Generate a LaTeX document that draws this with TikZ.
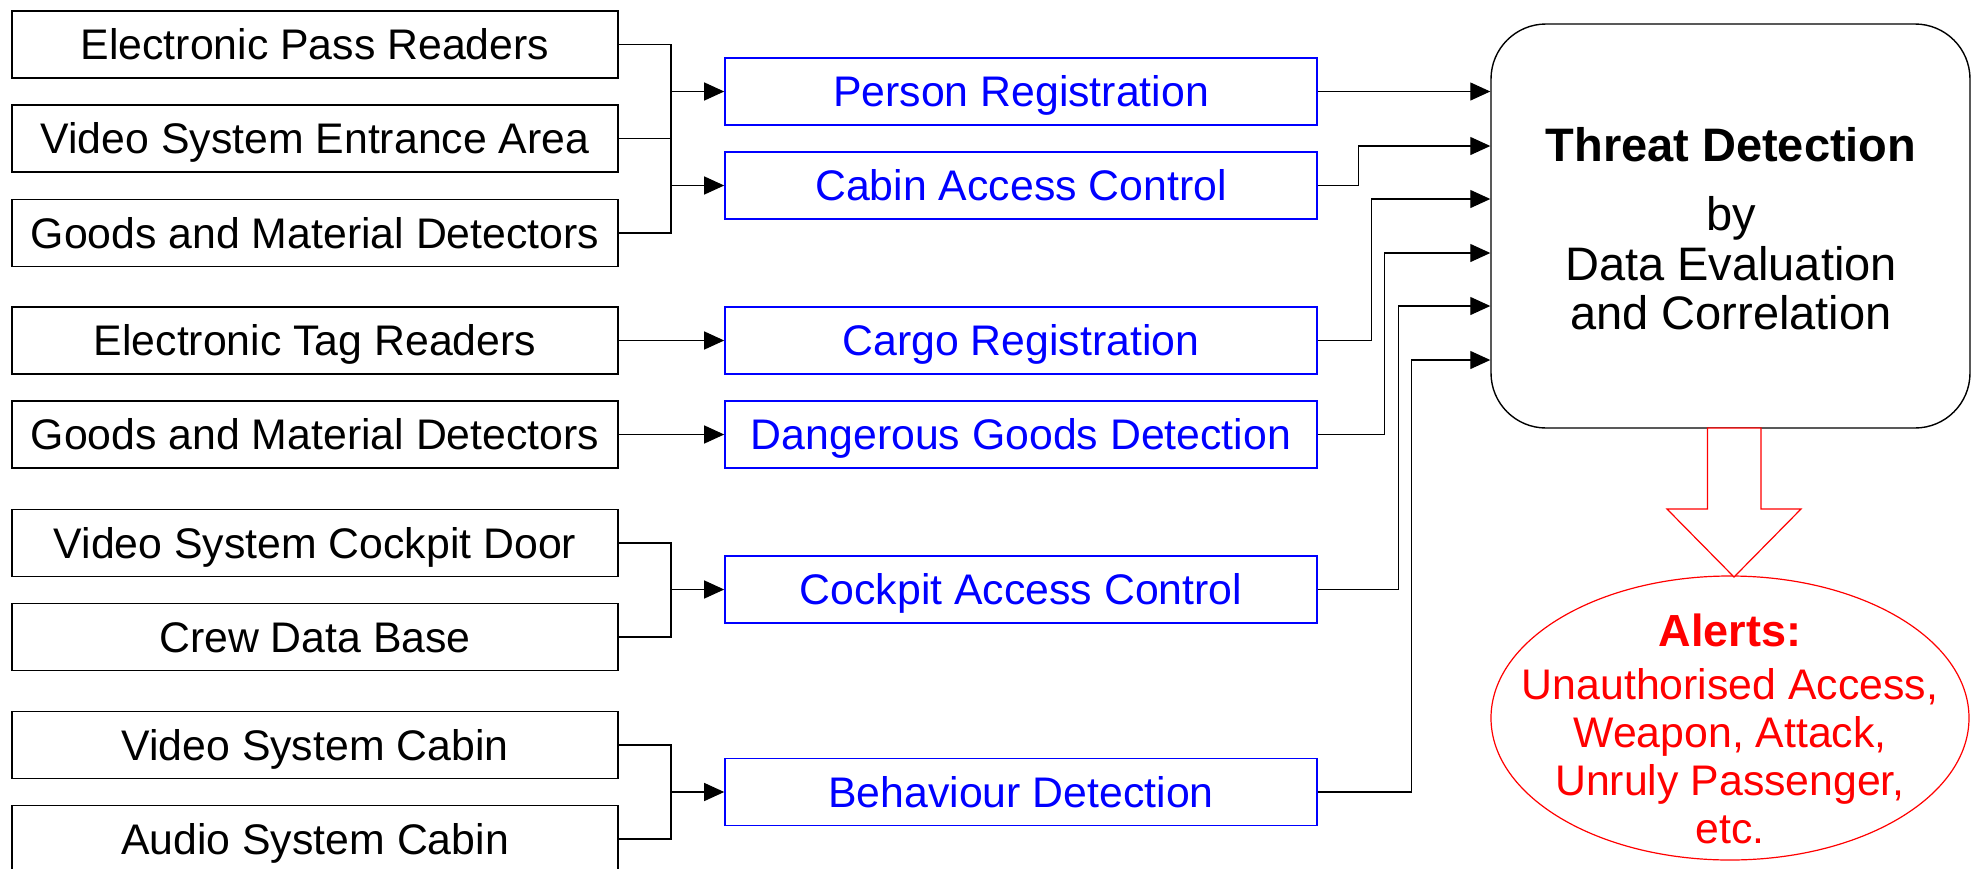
\documentclass[tikz,border=0pt]{standalone}
\usepackage{fontspec}
\setmainfont{Liberation Sans}
\usetikzlibrary{arrows.meta,shapes.geometric,calc}

\tikzset{
  srcbox/.style={draw=black, line width=0.8pt, minimum width=303pt,
    minimum height=33.5pt, inner sep=0pt, text height=15.3pt, text depth=0pt,
    font=\fontsize{21.4}{25}\selectfont},
  funcbox/.style={draw=blue, text=blue, line width=0.8pt, minimum width=296pt,
    minimum height=33.5pt, inner sep=0pt, text height=15.3pt, text depth=0pt,
    font=\fontsize{21.4}{25}\selectfont},
  threatbox/.style={draw=black, line width=0.7pt, rounded corners=27.5pt,
    minimum width=239.5pt, minimum height=202pt, inner sep=0pt},
  threattext/.style={align=center, inner sep=0pt,
    font=\fontsize{23.5}{24.75}\selectfont},
  alertshape/.style={ellipse, draw=red, line width=0.6pt,
    minimum width=239pt, minimum height=142pt, inner sep=0pt},
  alerttext/.style={text=red, inner sep=0pt, align=center,
    font=\fontsize{21.4}{24}\selectfont},
  link/.style={draw=black, line width=0.6pt},
  feed/.style={link, -{Triangle[length=10pt,width=9pt]}},
}

\begin{document}
\begin{tikzpicture}[x=0.5pt,y=-0.5pt]
\clip (0,0) rectangle (1971,868);

% sensor sources
\node[srcbox] (epr)  at (315,44.5)  {Electronic Pass Readers};
\node[srcbox] (vse)  at (315,138.5) {Video System Entrance Area};
\node[srcbox] (gmd1) at (315,233)   {Goods and Material Detectors};
\node[srcbox] (etr)  at (315,340.5) {Electronic Tag Readers};
\node[srcbox] (gmd2) at (315,434.5) {Goods and Material Detectors};
\node[srcbox] (vscd) at (315,543)   {Video System Cockpit Door};
\node[srcbox] (cdb)  at (315,637)   {Crew Data Base};
\node[srcbox] (vsc)  at (315,745)   {Video System Cabin};
\node[srcbox] (asc)  at (315,839)   {Audio System Cabin};

% functions
\node[funcbox] (person)  at (1021,91.5)  {Person Registration};
\node[funcbox] (cabin)   at (1021,185.5) {Cabin Access Control};
\node[funcbox] (cargo)   at (1021,340.5) {Cargo Registration};
\node[funcbox] (dgd)     at (1021,434.5) {Dangerous Goods Detection};
\node[funcbox] (cockpit) at (1021,589.5) {Cockpit Access Control};
\node[funcbox] (behav)   at (1021,792)   {Behaviour Detection};

% central evaluation
\node[threatbox] (threat) at (1730.5,226) {};
\node[threattext] (threatlabel) at (1731,229)
  {\textbf{Threat Detection}\\[9.6pt] by\\ Data Evaluation\\ and Correlation};

% alerts
\node[alertshape] (alerts) at (1730,718) {};
\node[alerttext] (alertstext) at (1730,729)
  {{\fontsize{22.5}{24}\selectfont\textbf{Alerts:}}\\[2.5pt]
   Unauthorised Access,\\ Weapon, Attack,\\ Unruly Passenger,\\ etc.};

% hollow arrow from evaluation to alerts
\draw[red, line width=0.6pt, fill=white]
  (1707.5,428) -- (1707.5,509) -- (1667,509) -- (1734,577)
  -- (1801,509) -- (1761,509) -- (1761,428) -- cycle;

% sources to functions
\coordinate (jl) at (671,0);
\draw[link] (epr.east) -- (epr.east -| jl) |- (gmd1.east);
\draw[link] (vse.east) -- (vse.east -| jl);
\draw[feed] (jl |- person.west) -- (person.west);
\draw[feed] (jl |- cabin.west) -- (cabin.west);
\draw[feed] (etr.east) -- (cargo.west);
\draw[feed] (gmd2.east) -- (dgd.west);
\draw[link] (vscd.east) -- (vscd.east -| jl) |- (cdb.east);
\draw[feed] (jl |- cockpit.west) -- (cockpit.west);
\draw[link] (vsc.east) -- (vsc.east -| jl) |- (asc.east);
\draw[feed] (jl |- behav.west) -- (behav.west);

% functions to evaluation
\coordinate (ty2) at (0,146);
\coordinate (ty3) at (0,199);
\coordinate (ty4) at (0,253);
\coordinate (ty5) at (0,306);
\coordinate (ty6) at (0,360);
\draw[feed] (person.east) -- (threat.west |- person.east);
\draw[feed] (cabin.east) -- ++(40.5,0) |- (threat.west |- ty2);
\draw[feed] (cargo.east) -- ++(53.5,0) |- (threat.west |- ty3);
\draw[feed] (dgd.east) -- ++(66.5,0) |- (threat.west |- ty4);
\draw[feed] (cockpit.east) -- ++(80.5,0) |- (threat.west |- ty5);
\draw[feed] (behav.east) -- ++(93.5,0) |- (threat.west |- ty6);
\end{tikzpicture}
\end{document}
